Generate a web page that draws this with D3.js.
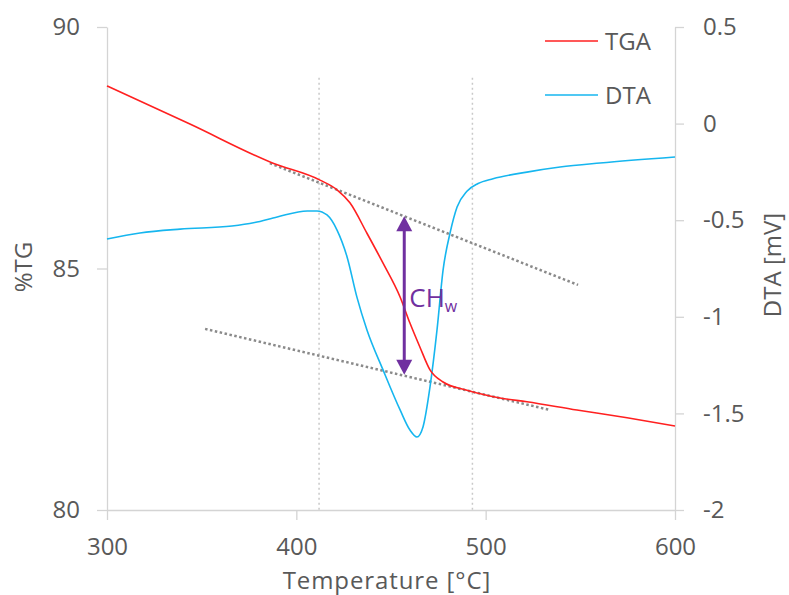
<!DOCTYPE html>
<html>
<head>
<meta charset="utf-8">
<script src="https://cdn.jsdelivr.net/npm/d3@7"></script>
<style>
  html, body { margin: 0; padding: 0; background: #fff; }
  text { font-family: "Open Sans", "Noto Sans", sans-serif; fill: #595959; }
</style>
</head>
<body>
<svg id="chart" width="789" height="595"></svg>
<script>
// Thermogravimetric (TGA) and differential thermal (DTA) traces
const tgaTemp = [300, 343.8, 387.7, 412.5, 421.5, 428.3, 437.3, 445.8, 454.8, 460, 465.3, 470.6, 477.5, 490.1, 507.6, 521.8, 548.2, 574.7, 600];
const tgaVal  = [88.78, 87.99, 87.18, 86.83, 86.63, 86.36, 85.73, 85.11, 84.41, 83.87, 83.37, 82.90, 82.65, 82.48, 82.32, 82.24, 82.07, 81.91, 81.74];

const dtaTemp = [300, 317.4, 338.6, 366, 378, 389.9, 405.8, 410.9, 416.2, 421.5, 426.8, 432, 437.3, 445.8, 454.8, 460, 463.7, 466.9, 470.6, 474.3, 477.5, 481.2, 484.9, 490.1, 496, 503.9, 521.8, 539.3, 560.4, 600];
const dtaVal  = [-0.597, -0.566, -0.546, -0.530, -0.512, -0.483, -0.452, -0.452, -0.473, -0.551, -0.690, -0.898, -1.068, -1.275, -1.482, -1.586, -1.622, -1.570, -1.363, -1.068, -0.758, -0.566, -0.432, -0.350, -0.310, -0.285, -0.251, -0.225, -0.204, -0.173];

// Tangent construction on the TGA curve (in %TG units)
const upperTangent = { t: [386, 548.8], v: [87.18, 84.66] };
const lowerTangent = { t: [351.8, 534], v: [83.75, 82.07] };
const onsetTemps = [412, 493];
const refTop = 88.95;
const arrowTemp = 457;
const arrowFrom = 86.08;
const arrowTo = 82.80;

const xTicks = [300, 400, 500, 600];
const tgTicks = [80, 85, 90];
const dtaTicks = [0.5, 0, -0.5, -1, -1.5, -2];

const seriesNames = ["TGA", "DTA"];
const seriesColors = ["#ff2020", "#16b6ef"];

const svg = d3.select("#chart");
const plotLeft = 107, plotRight = 675, plotTop = 27, plotBottom = 510;

const x = d3.scaleLinear().domain([300, 600]).range([plotLeft, plotRight]);
const yTG = d3.scaleLinear().domain([80, 90]).range([plotBottom, plotTop]);
const yDTA = d3.scaleLinear().domain([-2, 0.5]).range([plotBottom, plotTop]);

const axisColor = "#d4d4d4";
const fontSize = "24px";

// Axes
function styleAxis(g) {
  g.select(".domain").attr("stroke", axisColor).attr("stroke-width", 1.3);
  g.selectAll(".tick line").attr("stroke", axisColor).attr("stroke-width", 1.3);
  g.selectAll(".tick text").style("font-size", fontSize).attr("fill", "#595959")
    .attr("font-family", "\"Open Sans\", sans-serif");
}

svg.append("g")
  .attr("transform", `translate(0,${plotBottom})`)
  .call(d3.axisBottom(x).tickValues(xTicks).tickSize(10).tickSizeOuter(0).tickPadding(18).tickFormat(d3.format("d")))
  .call(styleAxis);

svg.append("g")
  .attr("transform", `translate(${plotLeft},0)`)
  .call(d3.axisLeft(yTG).tickValues(tgTicks).tickSize(10).tickSizeOuter(0).tickPadding(17).tickFormat(d3.format("d")))
  .call(styleAxis);

svg.append("g")
  .attr("transform", `translate(${plotRight},0)`)
  .call(d3.axisRight(yDTA).tickValues(dtaTicks).tickSize(9).tickSizeOuter(0).tickPadding(19).tickFormat(d => String(d)))
  .call(styleAxis);

// Axis titles
svg.append("text")
  .attr("x", (plotLeft + plotRight) / 2 - 4).attr("y", 589)
  .attr("text-anchor", "middle")
  .style("font-size", fontSize)
  .style("letter-spacing", "0.9px")
  .text("Temperature [°C]");

svg.append("text")
  .attr("transform", `translate(32,267) rotate(-90)`)
  .attr("text-anchor", "middle")
  .style("font-size", fontSize)
  .text("%TG");

svg.append("text")
  .attr("transform", `translate(781,265) rotate(-90)`)
  .attr("text-anchor", "middle")
  .style("font-size", fontSize)
  .text("DTA [mV]");

// Onset reference lines
svg.append("g").selectAll("line")
  .data(onsetTemps).join("line")
  .attr("x1", d => x(d)).attr("x2", d => x(d))
  .attr("y1", yTG(refTop)).attr("y2", plotBottom)
  .attr("stroke", "#c9c9c9").attr("stroke-width", 1.5)
  .attr("stroke-dasharray", "2,3");

// Tangents
[upperTangent, lowerTangent].forEach(tn => {
  svg.append("line")
    .attr("x1", x(tn.t[0])).attr("y1", yTG(tn.v[0]))
    .attr("x2", x(tn.t[1])).attr("y2", yTG(tn.v[1]))
    .attr("stroke", "#8a8a8a").attr("stroke-width", 2.5)
    .attr("stroke-dasharray", "2.5,2.5");
});

// Curves
const tgaLine = d3.line().curve(d3.curveMonotoneX)
  .x((d, i) => x(tgaTemp[i])).y(d => yTG(d));
const dtaLine = d3.line().curve(d3.curveMonotoneX)
  .x((d, i) => x(dtaTemp[i])).y(d => yDTA(d));

svg.append("path").attr("d", dtaLine(dtaVal))
  .attr("fill", "none").attr("stroke", seriesColors[1]).attr("stroke-width", 1.6);
svg.append("path").attr("d", tgaLine(tgaVal))
  .attr("fill", "none").attr("stroke", seriesColors[0]).attr("stroke-width", 1.6);

// Mass-loss arrow
const purple = "#7030a0";
const ax = x(arrowTemp), ay1 = yTG(arrowFrom), ay2 = yTG(arrowTo);
const headH = 15, headW = 8;
svg.append("line")
  .attr("x1", ax).attr("x2", ax)
  .attr("y1", ay1 + headH - 2).attr("y2", ay2 - headH + 2)
  .attr("stroke", purple).attr("stroke-width", 3);
svg.append("path")
  .attr("d", `M${ax},${ay1} L${ax - headW},${ay1 + headH} L${ax + headW},${ay1 + headH} Z`)
  .attr("fill", purple);
svg.append("path")
  .attr("d", `M${ax},${ay2} L${ax - headW},${ay2 - headH} L${ax + headW},${ay2 - headH} Z`)
  .attr("fill", purple);

const lbl = svg.append("text")
  .attr("x", ax + 5).attr("y", 307)
  .style("font-size", "26px").style("fill", purple);
lbl.append("tspan").text("CH");
lbl.append("tspan").attr("dy", 5).style("font-size", "16px").text("w");

// Legend
const legend = svg.append("g");
seriesNames.forEach((name, i) => {
  const ly = 41 + i * 54;
  legend.append("line")
    .attr("x1", 545).attr("x2", 598).attr("y1", ly).attr("y2", ly)
    .attr("stroke", seriesColors[i]).attr("stroke-width", 1.6);
  legend.append("text")
    .attr("x", 605).attr("y", ly + 9)
    .style("font-size", fontSize)
    .text(name);
});
</script>
</body>
</html>
